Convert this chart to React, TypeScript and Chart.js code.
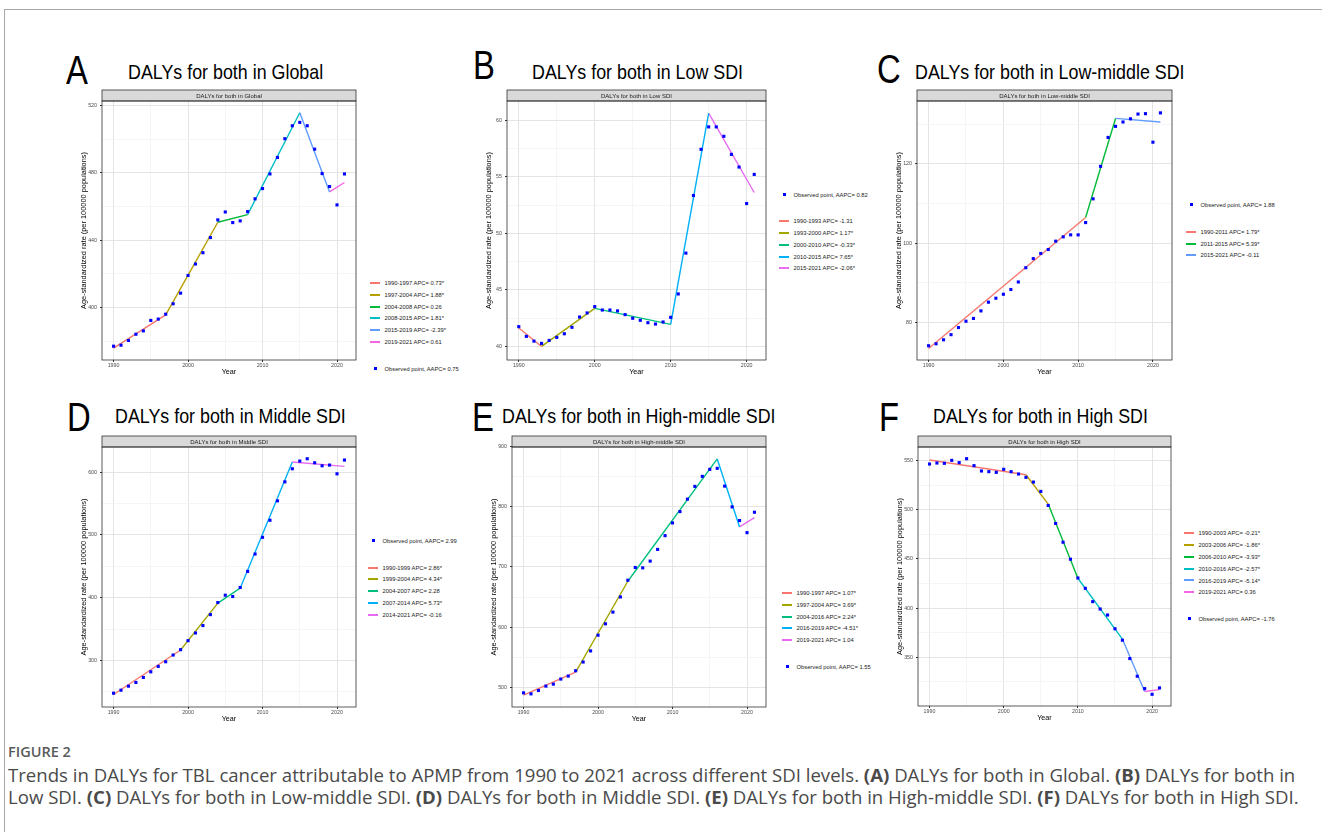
import React, { useEffect, useRef } from "react";
import { Chart, registerables } from "chart.js";

Chart.register(...registerables);

// ---------- shared axis data ----------
const years = [1990, 1991, 1992, 1993, 1994, 1995, 1996, 1997, 1998, 1999, 2000, 2001, 2002, 2003, 2004, 2005, 2006, 2007, 2008, 2009, 2010, 2011, 2012, 2013, 2014, 2015, 2016, 2017, 2018, 2019, 2020, 2021];
const xTickValues = [1990, 1995, 2000, 2005, 2010, 2015, 2020];
const xTickLabels = [1990, 2000, 2010, 2020];
const xRange = [1988.45, 2022.55];

// ---------- A: Global ----------
const globalObserved = [377.0, 377.6, 380.4, 384.1, 386.1, 392.3, 393.1, 396.0, 402.2, 408.5, 419.0, 425.8, 432.5, 441.5, 452.0, 456.7, 450.4, 451.4, 456.9, 464.5, 470.6, 479.3, 489.1, 500.2, 507.9, 509.9, 507.9, 494.0, 479.5, 471.8, 460.9, 479.3];
const globalJoinYears = [1990, 1997, 2004, 2008, 2015, 2019, 2021];
const globalFitted = [375.8, 395.6, 450.6, 455.1, 515.6, 468.6, 474.2];
const globalSegmentLabels = ["1990-1997 APC= 0.73*", "1997-2004 APC= 1.88*", "2004-2008 APC= 0.26", "2008-2015 APC= 1.81*", "2015-2019 APC= -2.39*", "2019-2021 APC= 0.61"];
const globalAapcLabel = "Observed point, AAPC= 0.75";
const globalYTicks = [380, 400, 420, 440, 460, 480, 500, 520];
const globalYLabels = [400, 440, 480, 520];
const globalYRange = [368.8, 522.6];

// ---------- B: Low SDI ----------
const lowObserved = [41.75, 40.89, 40.47, 40.27, 40.53, 40.80, 41.12, 41.69, 42.60, 42.96, 43.52, 43.22, 43.22, 43.14, 42.81, 42.49, 42.31, 42.10, 41.98, 42.16, 42.57, 44.64, 48.25, 53.34, 57.43, 59.41, 59.41, 58.58, 56.98, 55.86, 52.63, 55.21];
const lowJoinYears = [1990, 1993, 2000, 2010, 2015, 2021];
const lowFitted = [41.63, 40.0, 43.37, 41.95, 60.62, 53.61];
const lowSegmentLabels = ["1990-1993 APC= -1.31", "1993-2000 APC= 1.17*", "2000-2010 APC= -0.33*", "2010-2015 APC= 7.65*", "2015-2021 APC= -2.06*"];
const lowAapcLabel = "Observed point, AAPC= 0.82";
const lowYTicks = [40, 42.5, 45, 47.5, 50, 52.5, 55, 57.5, 60];
const lowYLabels = [40, 45, 50, 55, 60];
const lowYRange = [38.8, 61.7];

// ---------- C: Low-middle SDI ----------
const lowMiddleObserved = [74.1, 74.6, 75.6, 76.9, 78.7, 80.3, 81.0, 82.9, 85.1, 86.1, 87.1, 88.3, 90.2, 93.8, 96.1, 97.4, 98.4, 100.5, 101.6, 102.1, 102.1, 105.2, 111.2, 119.4, 126.7, 129.5, 130.6, 131.4, 132.6, 132.7, 125.5, 132.9];
const lowMiddleJoinYears = [1990, 2011, 2015, 2021];
const lowMiddleFitted = [73.4, 106.5, 131.5, 130.6];
const lowMiddleSegmentLabels = ["1990-2011 APC= 1.79*", "2011-2015 APC= 5.39*", "2015-2021 APC= -0.11"];
const lowMiddleAapcLabel = "Observed point, AAPC= 1.88";
const lowMiddleYTicks = [80, 90, 100, 110, 120, 130];
const lowMiddleYLabels = [80, 100, 120];
const lowMiddleYRange = [70.5, 135.9];

// ---------- D: Middle SDI ----------
const middleObserved = [247.8, 252.6, 259.0, 264.9, 272.9, 281.9, 290.5, 297.9, 308.6, 317.1, 331.5, 343.7, 355.5, 373.0, 392.2, 403.9, 401.8, 416.2, 441.8, 469.5, 496.1, 523.3, 554.2, 584.5, 605.3, 617.6, 621.3, 614.9, 610.1, 611.2, 597.3, 619.2];
const middleJoinYears = [1990, 1999, 2004, 2007, 2014, 2021];
const middleFitted = [245.7, 316.6, 391.2, 415.1, 616.0, 609.1];
const middleSegmentLabels = ["1990-1999 APC= 2.86*", "1999-2004 APC= 4.34*", "2004-2007 APC= 2.28", "2007-2014 APC= 5.73*", "2014-2021 APC= -0.16"];
const middleAapcLabel = "Observed point, AAPC= 2.99";
const middleYTicks = [250, 300, 350, 400, 450, 500, 550, 600];
const middleYLabels = [300, 400, 500, 600];
const middleYRange = [225.8, 640.0];

// ---------- E: High-middle SDI ----------
const highMiddleObserved = [490.5, 488.8, 494.4, 501.7, 505.0, 513.4, 518.4, 527.3, 541.8, 560.3, 586.5, 605.4, 624.9, 650.1, 678.0, 699.2, 698.6, 709.8, 729.3, 752.2, 773.4, 792.3, 813.0, 834.2, 850.9, 862.6, 864.3, 834.7, 800.1, 777.3, 757.2, 791.2];
const highMiddleJoinYears = [1990, 1997, 2004, 2016, 2019, 2021];
const highMiddleFitted = [486.6, 525.1, 676.3, 879.9, 766.7, 782.3];
const highMiddleSegmentLabels = ["1990-1997 APC= 1.07*", "1997-2004 APC= 3.69*", "2004-2016 APC= 2.24*", "2016-2019 APC= -4.51*", "2019-2021 APC= 1.04"];
const highMiddleAapcLabel = "Observed point, AAPC= 1.55";
const highMiddleYTicks = [500, 550, 600, 650, 700, 750, 800, 850, 900];
const highMiddleYLabels = [500, 600, 700, 800, 900];
const highMiddleYRange = [466.9, 899.8];

// ---------- F: High SDI ----------
const highObserved = [546.6, 547.6, 547.3, 550.3, 548.0, 552.0, 544.9, 539.5, 538.8, 538.1, 541.2, 538.8, 536.4, 533.0, 528.2, 518.7, 504.4, 486.1, 467.0, 449.7, 430.6, 420.1, 406.5, 399.0, 392.9, 378.9, 367.3, 348.6, 330.6, 318.0, 312.2, 318.7];
const highJoinYears = [1990, 2003, 2006, 2010, 2016, 2019, 2021];
const highFitted = [550.7, 535.7, 505.8, 430.3, 368.4, 315.0, 317.0];
const highSegmentLabels = ["1990-2003 APC= -0.21*", "2003-2006 APC= -1.86*", "2006-2010 APC= -3.93*", "2010-2016 APC= -2.57*", "2016-2019 APC= -5.14*", "2019-2021 APC= 0.36"];
const highAapcLabel = "Observed point, AAPC= -1.76";
const highYTicks = [325, 350, 375, 400, 425, 450, 475, 500, 525, 550];
const highYLabels = [350, 400, 450, 500, 550];
const highYRange = [300.3, 563.9];

// ---------- styles ----------
const palette6 = ["#F8766D", "#B79F00", "#00BA38", "#00BFC4", "#619CFF", "#F564E3"];
const palette5 = ["#F8766D", "#A3A500", "#00BF7D", "#00B0F6", "#E76BF3"];
const palette3 = ["#F8766D", "#00BA38", "#619CFF"];
const FONT = "'Liberation Sans', Arial, Helvetica, sans-serif";
const CAPTION_FONT = "'Open Sans', 'Noto Sans', sans-serif";

const panels = [
  { letter: "A", title: "DALYs for both in Global", observed: globalObserved, joinYears: globalJoinYears, fitted: globalFitted, segLabels: globalSegmentLabels, aapc: globalAapcLabel, yTicks: globalYTicks, yLabels: globalYLabels, yRange: globalYRange, colors: palette6,
    box: { l: 102, r: 357, t: 101, b: 360 }, letterPos: { x: 66, y: 55 }, titlePos: { x: 128, y: 64 }, legend: { x: 370, y: 283, obsFirst: false } },
  { letter: "B", title: "DALYs for both in Low SDI", observed: lowObserved, joinYears: lowJoinYears, fitted: lowFitted, segLabels: lowSegmentLabels, aapc: lowAapcLabel, yTicks: lowYTicks, yLabels: lowYLabels, yRange: lowYRange, colors: palette5,
    box: { l: 507, r: 767, t: 101, b: 360 }, letterPos: { x: 473, y: 50 }, titlePos: { x: 532, y: 64 }, legend: { x: 779, y: 194.7, obsFirst: true } },
  { letter: "C", title: "DALYs for both in Low-middle SDI", observed: lowMiddleObserved, joinYears: lowMiddleJoinYears, fitted: lowMiddleFitted, segLabels: lowMiddleSegmentLabels, aapc: lowMiddleAapcLabel, yTicks: lowMiddleYTicks, yLabels: lowMiddleYLabels, yRange: lowMiddleYRange, colors: palette3,
    box: { l: 917, r: 1173, t: 101, b: 360 }, letterPos: { x: 877, y: 54 }, titlePos: { x: 915, y: 64 }, legend: { x: 1186, y: 205.3, obsFirst: true } },
  { letter: "D", title: "DALYs for both in Middle SDI", observed: middleObserved, joinYears: middleJoinYears, fitted: middleFitted, segLabels: middleSegmentLabels, aapc: middleAapcLabel, yTicks: middleYTicks, yLabels: middleYLabels, yRange: middleYRange, colors: palette5,
    box: { l: 102, r: 357, t: 447, b: 707 }, letterPos: { x: 67, y: 402 }, titlePos: { x: 115, y: 408 }, legend: { x: 368, y: 541, obsFirst: true } },
  { letter: "E", title: "DALYs for both in High-middle SDI", observed: highMiddleObserved, joinYears: highMiddleJoinYears, fitted: highMiddleFitted, segLabels: highMiddleSegmentLabels, aapc: highMiddleAapcLabel, yTicks: highMiddleYTicks, yLabels: highMiddleYLabels, yRange: highMiddleYRange, colors: palette5,
    box: { l: 512, r: 767, t: 447, b: 707 }, letterPos: { x: 472, y: 402 }, titlePos: { x: 502, y: 408 }, legend: { x: 782, y: 593, obsFirst: false } },
  { letter: "F", title: "DALYs for both in High SDI", observed: highObserved, joinYears: highJoinYears, fitted: highFitted, segLabels: highSegmentLabels, aapc: highAapcLabel, yTicks: highYTicks, yLabels: highYLabels, yRange: highYRange, colors: palette6,
    box: { l: 918, r: 1172, t: 447, b: 706 }, letterPos: { x: 879, y: 402 }, titlePos: { x: 933, y: 408 }, legend: { x: 1184, y: 533.3, obsFirst: false } },
];

const PAD_L = 44, PAD_T = 14, PAD_R = 3, PAD_B = 22, STRIP_H = 11;

const panelDeco = {
  id: "panelDeco",
  afterDraw(chart: any, _args: any, opts: any) {
    const { ctx, chartArea: a } = chart;
    const w = a.right - a.left;
    const h = a.bottom - a.top;
    ctx.save();
    ctx.fillStyle = "#D9D9D9";
    ctx.fillRect(a.left, a.top - STRIP_H, w, STRIP_H);
    ctx.strokeStyle = "#333333";
    ctx.lineWidth = 0.8;
    ctx.strokeRect(a.left, a.top - STRIP_H, w, STRIP_H);
    ctx.fillStyle = "#1A1A1A";
    ctx.font = `6px ${FONT}`;
    ctx.textAlign = "center";
    ctx.textBaseline = "middle";
    ctx.fillText(opts.text, a.left + w / 2, a.top - STRIP_H / 2 + 0.5);
    ctx.strokeRect(a.left, a.top, w, h);
    ctx.restore();
  },
};

function PanelChart({ p }: { p: any }) {
  const ref = useRef<HTMLCanvasElement>(null);
  const cl = p.box.l - PAD_L;
  const ct = p.box.t - PAD_T;
  const cw = p.box.r + PAD_R - cl;
  const ch = p.box.b + PAD_B - ct;

  useEffect(() => {
    if (!ref.current) return;
    const datasets: any[] = [
      {
        label: p.aapc,
        data: years.map((x, i) => ({ x, y: p.observed[i] })),
        pointStyle: "rect",
        pointRadius: 2.2,
        backgroundColor: "#0000FF",
        borderWidth: 0,
        showLine: false,
        order: 0,
      },
    ];
    for (let i = 0; i < p.joinYears.length - 1; i++) {
      datasets.push({
        label: p.segLabels[i],
        data: [
          { x: p.joinYears[i], y: p.fitted[i] },
          { x: p.joinYears[i + 1], y: p.fitted[i + 1] },
        ],
        showLine: true,
        borderColor: p.colors[i],
        borderWidth: 1.4,
        pointRadius: 0,
        fill: false,
        order: 1,
      });
    }
    const majorGrid = "#E4E4E4";
    const minorGrid = "#F1F1F1";
    const chart = new Chart(ref.current, {
      type: "scatter",
      data: { datasets },
      plugins: [panelDeco],
      options: {
        animation: false,
        responsive: false,
        devicePixelRatio: 1,
        layout: { padding: { top: PAD_T, right: PAD_R, left: 0, bottom: 0 } },
        plugins: {
          legend: { display: false },
          tooltip: { enabled: false },
          panelDeco: { text: p.title },
        } as any,
        scales: {
          x: {
            type: "linear",
            min: xRange[0],
            max: xRange[1],
            afterBuildTicks: (s: any) => {
              s.ticks = xTickValues.map((v) => ({ value: v }));
            },
            afterFit: (s: any) => {
              s.height = PAD_B;
            },
            ticks: {
              autoSkip: false,
              maxRotation: 0,
              padding: 0,
              color: "#4D4D4D",
              font: { family: FONT, size: 5.3 },
              callback: (v: any) => (xTickLabels.includes(v) ? String(v) : ""),
            },
            grid: {
              color: (c: any) => (xTickLabels.includes(c.tick?.value) ? majorGrid : minorGrid),
              lineWidth: (c: any) => (xTickLabels.includes(c.tick?.value) ? 1 : 0.7),
              tickLength: 2,
              tickColor: (c: any) => (xTickLabels.includes(c.tick?.value) ? "#333333" : "rgba(0,0,0,0)"),
            },
            border: { display: false },
            title: {
              display: true,
              text: "Year",
              color: "#000000",
              font: { family: FONT, size: 7.2 },
              padding: { top: 0, bottom: 5.7 },
            },
          },
          y: {
            type: "linear",
            min: p.yRange[0],
            max: p.yRange[1],
            afterBuildTicks: (s: any) => {
              s.ticks = p.yTicks.map((v: number) => ({ value: v }));
            },
            afterFit: (s: any) => {
              s.width = PAD_L;
            },
            ticks: {
              autoSkip: false,
              padding: 3,
              color: "#4D4D4D",
              font: { family: FONT, size: 5.3 },
              callback: (v: any) => (p.yLabels.includes(v) ? String(v) : ""),
            },
            grid: {
              color: (c: any) => (p.yLabels.includes(c.tick?.value) ? majorGrid : minorGrid),
              lineWidth: (c: any) => (p.yLabels.includes(c.tick?.value) ? 1 : 0.7),
              tickLength: 2,
              tickColor: (c: any) => (p.yLabels.includes(c.tick?.value) ? "#333333" : "rgba(0,0,0,0)"),
            },
            border: { display: false },
            title: {
              display: true,
              text: "Age-standardized rate (per 100000 populations)",
              color: "#000000",
              font: { family: FONT, size: 7.4 },
              padding: { top: 21.2, bottom: 0 },
            },
          },
        },
      } as any,
    });
    return () => chart.destroy();
  }, []);

  return (
    <canvas
      ref={ref}
      width={cw}
      height={ch}
      style={{ position: "absolute", left: cl, top: ct, width: cw, height: ch }}
    />
  );
}

function PanelLegend({ p }: { p: any }) {
  const items: any[] = [];
  let y = p.legend.y;
  const obs = { kind: "point", text: p.aapc };
  if (p.legend.obsFirst) {
    items.push({ ...obs, y });
    y += 26.5;
    p.segLabels.forEach((t: string, i: number) => {
      items.push({ kind: "line", color: p.colors[i], text: t, y });
      y += 11.8;
    });
  } else {
    p.segLabels.forEach((t: string, i: number) => {
      items.push({ kind: "line", color: p.colors[i], text: t, y });
      y += 11.8;
    });
    y += 27 - 11.8;
    items.push({ ...obs, y });
  }
  return (
    <>
      {items.map((it, i) => (
        <React.Fragment key={i}>
          {it.kind === "line" ? (
            <div style={{ position: "absolute", left: p.legend.x, top: Math.round(it.y) - 1, width: 10, height: 2, background: it.color }} />
          ) : (
            <div style={{ position: "absolute", left: p.legend.x + 4, top: Math.round(it.y) - 2, width: 3, height: 3, background: "#0000FF" }} />
          )}
          <div
            style={{
              position: "absolute",
              left: p.legend.x + 14.5,
              top: it.y - 5,
              height: 10,
              lineHeight: "10px",
              fontFamily: FONT,
              fontSize: 5.8,
              color: "#1A1A1A",
              whiteSpace: "nowrap",
            }}
          >
            {it.text}
          </div>
        </React.Fragment>
      ))}
    </>
  );
}

export default function App() {
  return (
    <div style={{ position: "absolute", left: 0, top: 0, width: 1322, height: 832, background: "#FFFFFF", overflow: "hidden" }}>
      <div style={{ position: "absolute", left: 4, top: 9, width: 1330, height: 840, borderTop: "1px solid #A8A8A8", borderLeft: "1px solid #A8A8A8" }} />
      {panels.map((p) => (
        <React.Fragment key={p.letter}>
          <div style={{ position: "absolute", left: p.letterPos.x, top: p.letterPos.y - 5.2, fontFamily: FONT, fontSize: 40, lineHeight: 1, color: "#000", transform: "scaleX(0.82)", transformOrigin: "0 0" }}>{p.letter}</div>
          <div style={{ position: "absolute", left: p.titlePos.x, top: p.titlePos.y - 2.7, fontFamily: FONT, fontSize: 21, lineHeight: 1, color: "#000", whiteSpace: "nowrap", transform: "scaleX(0.85)", transformOrigin: "0 0" }}>{p.title}</div>
          <PanelChart p={p} />
          <PanelLegend p={p} />
        </React.Fragment>
      ))}
      <div style={{ position: "absolute", left: 8, top: 743, fontFamily: CAPTION_FONT, fontSize: 14.5, lineHeight: "18px", fontWeight: 600, color: "#5A5A5A" }}>FIGURE 2</div>
      <div style={{ position: "absolute", left: 8, top: 764, fontFamily: CAPTION_FONT, fontSize: 18.6, lineHeight: "22px", color: "#4A4A4A", whiteSpace: "nowrap" }}>
        Trends in DALYs for TBL cancer attributable to APMP from 1990 to 2021 across different SDI levels. <b>(A)</b> DALYs for both in Global. <b>(B)</b> DALYs for both in
        <br />
        Low SDI. <b>(C)</b> DALYs for both in Low-middle SDI. <b>(D)</b> DALYs for both in Middle SDI. <b>(E)</b> DALYs for both in High-middle SDI. <b>(F)</b> DALYs for both in High SDI.
      </div>
    </div>
  );
}
